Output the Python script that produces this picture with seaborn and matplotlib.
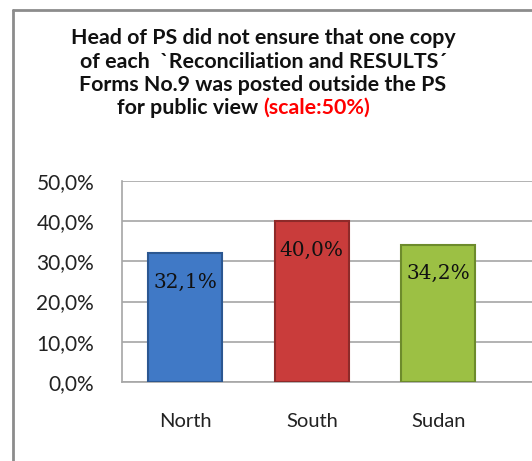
import matplotlib
matplotlib.use("Agg")
import matplotlib.pyplot as plt
import seaborn as sns
import pandas as pd
from matplotlib.lines import Line2D

regions = ["North", "South", "Sudan"]
shares = [32.1, 40.0, 34.2]
bar_labels = ["32,1%", "40,0%", "34,2%"]
y_ticks = [0, 10, 20, 30, 40, 50]
y_tick_labels = ["0,0%", "10,0%", "20,0%", "30,0%", "40,0%", "50,0%"]

colors = ["#4079c6", "#c93c3b", "#9cc044"]
edges = ["#2b5791", "#8e2a29", "#6d8b2c"]

sns.set_style("white")
plt.rcParams["font.family"] = ["Lato", "DejaVu Sans"]

fig = plt.figure(figsize=(5.32, 4.61), dpi=100)
ax = fig.add_axes([0.2293, 0.1714, 0.7707, 0.436])

df = pd.DataFrame({"region": regions, "share": shares})
sns.barplot(data=df, x="region", y="share", hue="region", palette=colors,
            width=0.585, legend=False, ax=ax, zorder=3, saturation=1)
for patch, ec in zip(ax.patches, edges):
    patch.set_edgecolor(ec)
    patch.set_linewidth(1.5)

for i, (v, lab) in enumerate(zip(shares, bar_labels)):
    ax.annotate(lab, (i, v), xytext=(0, -29), textcoords="offset pixels",
                ha="center", va="center", fontsize=14.5, color="#111111",
                family="DejaVu Serif")

ax.set_ylim(0, 50)
ax.set_xlim(-0.5, 2.74)
ax.set_yticks(y_ticks)
ax.set_yticklabels(y_tick_labels, fontsize=15, color="#222222")
ax.tick_params(axis="y", pad=20, length=0)
ax.tick_params(axis="x", pad=22, length=0, labelsize=14.5, labelcolor="#222222")
ax.set_xlabel("")
ax.set_ylabel("")
ax.yaxis.grid(True, color="#a6a6a6", linewidth=1.2, zorder=0)
ax.set_axisbelow(True)
for s in ["top", "right"]:
    ax.spines[s].set_visible(False)
ax.spines["left"].set_color("#a6a6a6")
ax.spines["bottom"].set_color("#a6a6a6")
ax.spines["left"].set_linewidth(1.2)
ax.spines["bottom"].set_linewidth(1.2)

# frame of the chart area
fig.add_artist(Line2D([13 / 532, 13 / 532], [0, 1 - 10 / 461], color="#8c8c8c", lw=2))
fig.add_artist(Line2D([13 / 532, 1], [1 - 10 / 461, 1 - 10 / 461], color="#8c8c8c", lw=2))

title_lines = ["Head of PS did not ensure that one copy",
               "of each  `Reconciliation and RESULTS\u00b4",
               "Forms No.9 was posted outside the PS"]
for k, line in enumerate(title_lines):
    fig.text(263 / 532, 1 - (38 + 23.5 * k) / 461, line, ha="center", va="center",
             fontsize=15.4, fontweight="bold", color="#111111")
fig.text(263 / 532, 1 - 108 / 461, "for public view ", ha="right", va="center",
         fontsize=15.4, fontweight="bold", color="#111111")
fig.text(263 / 532, 1 - 108 / 461, "(scale:50%)", ha="left", va="center",
         fontsize=15.4, fontweight="bold", color="#ff0000")

fig.savefig("out.png", dpi=100)
